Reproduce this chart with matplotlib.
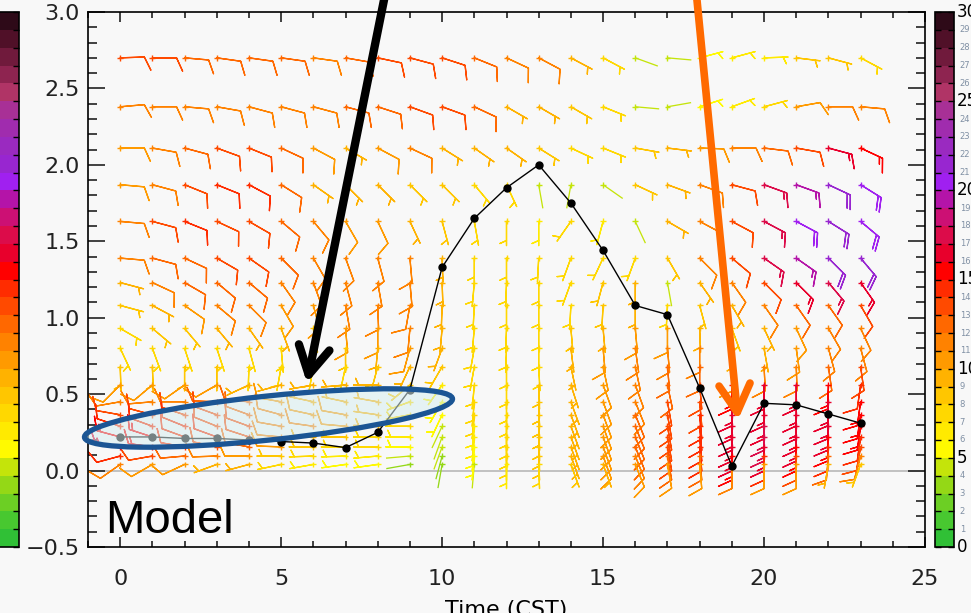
import numpy as np
import matplotlib
matplotlib.use('Agg')
import matplotlib.pyplot as plt
from matplotlib.colors import ListedColormap, BoundaryNorm
from matplotlib.cm import ScalarMappable
from matplotlib.patches import Ellipse
from matplotlib.patches import ArrowStyle
from matplotlib.ticker import MultipleLocator

# ---------------- data ----------------
hours = list(range(24))
levels = [2.70, 2.38, 2.11, 1.87, 1.63, 1.39, 1.23, 1.08, 0.93, 0.80,
          0.68, 0.56, 0.45, 0.365, 0.29, 0.22, 0.155, 0.095, 0.04]

# direction the barb shaft points to (wind-from direction, deg clockwise from north)
wind_dir = [
    [88, 90, 95, 98, 98, 98, 98, 100, 102, 105, 108, 112, 115, 118, 118, 118, 110, 95, 75, 75, 88, 97, 105, 118],
    [85, 90, 95, 100, 105, 105, 105, 105, 108, 110, 110, 115, 120, 120, 120, 112, 95, 80, 72, 70, 75, 80, 90, 95],
    [90, 100, 105, 110, 112, 115, 118, 120, 118, 115, 122, 125, 125, 122, 115, 112, 100, 97, 92, 90, 97, 100, 105, 115],
    [95, 105, 112, 112, 118, 122, 125, 135, 135, 135, 135, 140, 155, 170, 190, 125, 115, 110, 110, 105, 110, 110, 115, 122],
    [95, 105, 112, 115, 120, 130, 140, 150, 155, 155, 165, 170, 180, 180, 215, 195, 155, 120, 118, 118, 118, 118, 122, 130],
    [95, 105, 115, 120, 125, 135, 150, 160, 165, 175, 178, 180, 180, 183, 200, 205, 200, 150, 135, 130, 125, 125, 135, 140],
    [105, 115, 120, 130, 130, 145, 160, 165, 170, 175, 178, 185, 182, 180, 200, 195, 180, 170, 145, 145, 135, 135, 140, 145],
    [105, 118, 125, 130, 135, 150, 165, 170, 178, 190, 182, 183, 180, 180, 183, 183, 180, 183, 165, 150, 145, 145, 145, 150],
    [120, 130, 140, 140, 145, 160, 170, 175, 180, 185, 185, 185, 182, 180, 175, 175, 175, 180, 178, 160, 155, 155, 150, 155],
    [155, 160, 162, 162, 165, 175, 180, 180, 185, 195, 200, 190, 182, 180, 173, 175, 172, 175, 180, 175, 170, 172, 165, 165],
    [178, 178, 180, 180, 182, 190, 190, 192, 195, 205, 210, 190, 180, 177, 168, 168, 168, 175, 180, 178, 177, 178, 172, 172],
    [225, 230, 235, 240, 245, 255, 260, 265, 270, 230, 215, 185, 180, 178, 162, 160, 160, 168, 175, 180, 180, 180, 182, 188],
    [260, 265, 270, 272, 275, 280, 282, 282, 280, 250, 210, 185, 180, 178, 160, 160, 158, 170, 175, 180, 180, 180, 182, 188],
    [280, 285, 288, 290, 290, 285, 282, 280, 278, 260, 205, 185, 180, 178, 160, 160, 158, 170, 175, 180, 180, 180, 182, 188],
    [288, 290, 292, 292, 290, 280, 278, 275, 272, 270, 205, 185, 180, 178, 160, 160, 158, 170, 175, 180, 180, 180, 182, 188],
    [285, 288, 290, 290, 288, 275, 272, 270, 270, 270, 200, 185, 180, 178, 160, 160, 158, 170, 175, 180, 180, 180, 182, 188],
    [275, 278, 280, 282, 280, 272, 270, 270, 270, 270, 200, 185, 180, 178, 160, 160, 158, 170, 175, 180, 180, 180, 182, 190],
    [255, 260, 265, 268, 270, 270, 268, 268, 265, 265, 195, 185, 180, 178, 160, 160, 158, 170, 175, 180, 180, 180, 185, 195],
    [235, 240, 245, 250, 255, 258, 260, 262, 262, 260, 190, 185, 180, 178, 160, 160, 158, 170, 175, 180, 180, 180, 190, 200],
]

wind_spd = [
    [13, 13, 12, 12, 12, 12, 11, 12, 13, 13, 13, 12, 11, 11, 9, 7, 4, 4, 5, 6, 6, 8, 8, 7],
    [11, 11, 11, 11, 11, 11, 11, 12, 12, 13, 13, 12, 9, 9, 8, 7, 4, 4, 5, 6, 7, 10, 11, 11],
    [10, 11, 12, 13, 13, 12, 10, 9, 10, 11, 9, 9, 9, 8, 7, 7, 8, 9, 10, 11, 12, 13, 16, 15],
    [10, 11, 13, 14, 14, 12, 9, 9, 9, 8, 8, 7, 7, 4, 4, 4, 8, 9, 11, 13, 17, 19, 21, 20],
    [11, 13, 14, 13, 13, 12, 11, 10, 10, 9, 8, 7, 7, 6, 7, 6, 4, 9, 11, 13, 17, 20, 21, 20],
    [11, 12, 12, 13, 13, 12, 11, 11, 11, 11, 9, 7, 7, 7, 7, 7, 7, 8, 11, 13, 17, 19, 21, 21],
    [9, 11, 12, 12, 12, 11, 11, 11, 11, 11, 9, 7, 7, 7, 7, 8, 9, 4, 9, 11, 13, 16, 17, 16],
    [8, 9, 10, 11, 11, 10, 10, 11, 11, 11, 9, 7, 7, 7, 7, 8, 9, 7, 8, 9, 11, 12, 12, 13],
    [7, 8, 8, 9, 9, 9, 8, 10, 10, 11, 9, 7, 7, 7, 8, 9, 10, 10, 9, 8, 9, 10, 11, 11],
    [7, 7, 7, 7, 7, 7, 7, 8, 9, 10, 9, 7, 7, 7, 9, 10, 11, 11, 11, 9, 9, 10, 11, 11],
    [8, 8, 8, 8, 7, 7, 7, 7, 8, 9, 8, 7, 7, 7, 9, 10, 11, 12, 12, 10, 11, 11, 12, 13],
    [10, 10, 10, 10, 9, 9, 9, 9, 9, 8, 6, 7, 7, 8, 9, 10, 11, 12, 13, 15, 16, 16, 15, 14],
    [11, 11, 11, 12, 12, 10, 9, 9, 9, 7, 5, 7, 7, 8, 9, 10, 11, 13, 13, 16, 16, 16, 16, 15],
    [13, 13, 13, 13, 12, 11, 10, 10, 9, 7, 5, 7, 7, 8, 9, 10, 12, 13, 14, 16, 16, 16, 16, 15],
    [14, 14, 14, 13, 13, 11, 11, 10, 9, 7, 4, 6, 7, 8, 9, 10, 12, 13, 14, 16, 17, 16, 16, 15],
    [15, 15, 14, 14, 13, 11, 9, 8, 7, 6, 4, 6, 7, 8, 9, 10, 12, 13, 14, 16, 17, 16, 15, 14],
    [16, 15, 14, 13, 12, 10, 8, 7, 7, 5, 4, 5, 7, 8, 9, 10, 12, 13, 14, 16, 16, 15, 14, 13],
    [14, 13, 12, 11, 10, 8, 7, 6, 6, 4, 3, 5, 7, 8, 9, 10, 11, 12, 12, 15, 14, 13, 12, 11],
    [11, 10, 10, 9, 9, 7, 6, 5, 5, 3, 3, 4, 6, 7, 8, 9, 10, 10, 10, 11, 10, 10, 9, 8],
]

line_vals = [0.22, 0.22, 0.21, 0.21, 0.20, 0.19, 0.18, 0.15, 0.25, 0.53, 1.33, 1.65, 1.85,
             2.00, 1.75, 1.44, 1.08, 1.02, 0.54, 0.03, 0.44, 0.43, 0.37, 0.31]

cbar_colors = ['#30c036', '#48c830', '#6ccf24', '#94d816', '#c4e40a',
               '#fffa00', '#ffea00', '#ffd800', '#ffc600', '#ffb200',
               '#ff9a00', '#ff8200', '#ff6800', '#ff4a00', '#ff2c00',
               '#ff0000', '#e8002c', '#dc0c4a', '#cc1074', '#b414a8',
               '#a020f0', '#9826d0', '#9a2ac0', '#a02cae', '#a83096',
               '#b03466', '#8e2450', '#701a3c', '#501028', '#2e0a18']
cbar_bounds = list(range(31))
cbar_major = [0, 5, 10, 15, 20, 25, 30]

# ---------------- figure ----------------
W, H = 971, 613
bg = '#f8f8f8'
fig = plt.figure(figsize=(W / 100, H / 100), dpi=100, facecolor=bg)
ax = fig.add_axes([88 / W, 66 / H, 837 / W, 535 / H])
ax.set_facecolor(bg)
ax.set_xlim(-1, 25)
ax.set_ylim(-0.5, 3.0)

cmap = ListedColormap(cbar_colors)
norm = BoundaryNorm(cbar_bounds, cmap.N)

X, Y = np.meshgrid(np.array(hours, float), np.array(levels, float))
D = np.radians(np.array(wind_dir, float))
S = np.array(wind_spd, float)
U = -S * np.sin(D)
V = -S * np.cos(D)

ax.axhline(0.0, color='#b8b8b8', lw=1.2, zorder=1)

# weak winds: bare shafts
weak = S < 5
ax.quiver(X[weak], Y[weak], np.sin(D[weak]), np.cos(D[weak]), S[weak],
          cmap=cmap, norm=norm, units='dots', scale=1 / 24.0, width=1.3,
          headwidth=0, headlength=0, headaxislength=0, pivot='tail', zorder=2)
strong = ~weak
ax.barbs(X[strong], Y[strong], U[strong], V[strong], S[strong],
         cmap=cmap, norm=norm, length=5.9, pivot='tip', rounding=False,
         barb_increments=dict(half=4.99, full=9.99, flag=49.99),
         sizes=dict(spacing=0.14, height=0.55, width=0.5),
         linewidth=0.95, zorder=2)
ax.scatter(X, Y, c=S, cmap=cmap, norm=norm, marker='+', s=18, linewidths=1.0, zorder=3)

ax.plot(hours, line_vals, color='black', lw=1.0, marker='o', ms=5, zorder=4)

# ticks
ax.xaxis.set_major_locator(MultipleLocator(5))
ax.xaxis.set_minor_locator(MultipleLocator(1))
ax.yaxis.set_major_locator(MultipleLocator(0.5))
ax.yaxis.set_minor_locator(MultipleLocator(0.1))
ax.tick_params(which='both', direction='in', top=True, right=True, width=1.2, colors='#222222')
ax.tick_params(axis='y', which='major', length=12, labelsize=16, pad=6)
ax.tick_params(axis='y', which='minor', length=6.5)
ax.tick_params(axis='x', which='major', length=7.5, labelsize=16, pad=16)
ax.tick_params(axis='x', which='minor', length=4)
ax.set_yticklabels([f'{v:.1f}'.replace('-', '\u2212') for v in ax.get_yticks()])
for sp in ax.spines.values():
    sp.set_linewidth(1.2)
ax.set_xlabel('Time (CST)', fontsize=16)
ax.xaxis.set_label_coords(0.5, -0.099)

ax.text(0.02, 0.008, 'Model', transform=ax.transAxes, fontsize=34,
        family='Liberation Sans', ha='left', va='bottom', zorder=6)

# highlight ellipse (figure inches)
ell = Ellipse((2.685, (H - 418) / 100), 3.70, 0.44, angle=6,
              transform=fig.dpi_scale_trans, facecolor='#d6eef0', alpha=0.55,
              edgecolor='none', zorder=5, clip_on=False)
fig.add_artist(ell)
ell2 = Ellipse((2.685, (H - 418) / 100), 3.70, 0.44, angle=6,
               transform=fig.dpi_scale_trans, facecolor='none',
               edgecolor='#1b5594', lw=3.8, zorder=6, clip_on=False)
fig.add_artist(ell2)

# annotation arrows
ax.annotate('', xy=(307, H - 383), xycoords='figure pixels',
            xytext=(386, H + 10), textcoords='figure pixels',
            arrowprops=dict(arrowstyle=ArrowStyle('->', head_length=0.5, head_width=0.28),
                            mutation_scale=40, color='black', lw=6, shrinkA=0, shrinkB=0),
            annotation_clip=False, zorder=7)
ax.annotate('', xy=(738, H - 420), xycoords='figure pixels',
            xytext=(696, H + 10), textcoords='figure pixels',
            arrowprops=dict(arrowstyle=ArrowStyle('->', head_length=0.5, head_width=0.28),
                            mutation_scale=40, color='#ff6a00', lw=5.5, shrinkA=0, shrinkB=0),
            annotation_clip=False, zorder=7)

# colorbars
sm = ScalarMappable(norm=norm, cmap=cmap)
for left, width, labels in [(935, 19, True), (-10, 29, False)]:
    cax = fig.add_axes([left / W, 66 / H, width / W, 535 / H])
    cb = fig.colorbar(sm, cax=cax, ticks=cbar_bounds)
    cb.outline.set_linewidth(1.2)
    cax.tick_params(axis='y', direction='in', length=4, width=1, left=True, right=True,
                    labelleft=False, labelright=False)
    if labels:
        for v in cbar_bounds:
            if v in cbar_major:
                cax.text(1.15, v, str(v), transform=cax.get_yaxis_transform(),
                         fontsize=12, va='center', ha='left', color='black')
            else:
                cax.text(1.3, v, str(v), transform=cax.get_yaxis_transform(),
                         fontsize=6, va='center', ha='left', color='#8090a4')

fig.savefig('out.png', dpi=100, facecolor=bg)
